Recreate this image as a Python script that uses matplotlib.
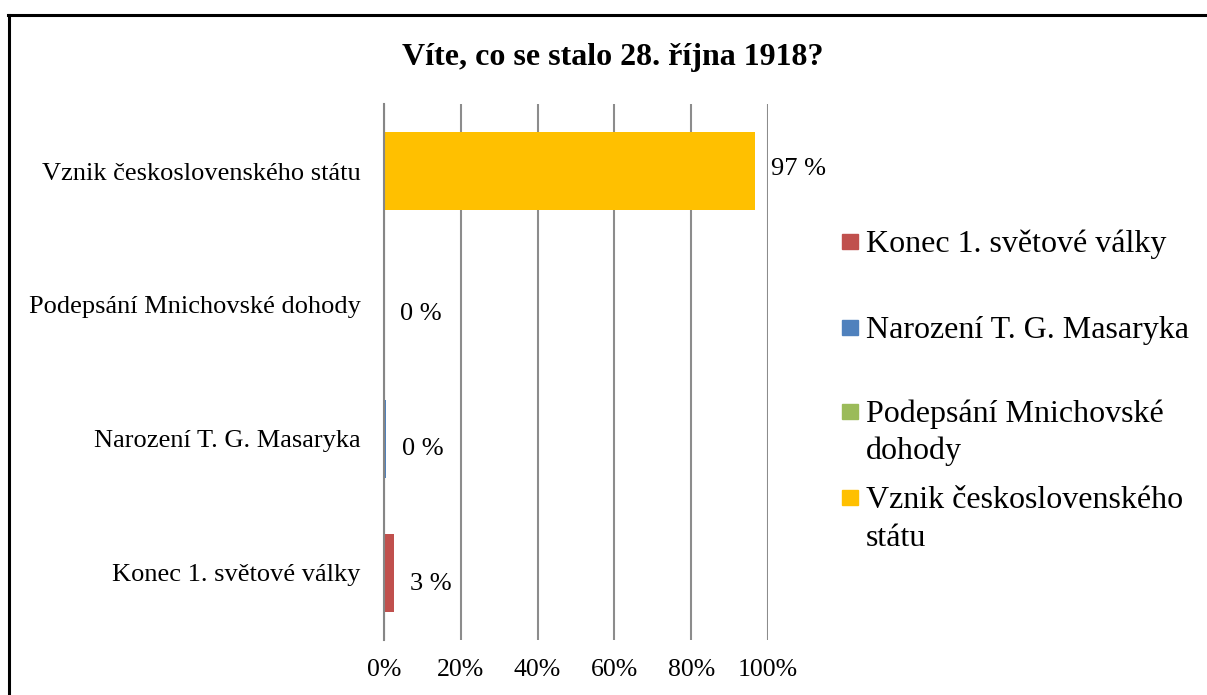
import matplotlib.pyplot as plt
import numpy as np
from matplotlib.patches import Rectangle
from matplotlib.lines import Line2D

plt.rcParams['font.family'] = ['Liberation Serif', 'DejaVu Serif']

# data
categories = ['Konec 1. světové války', 'Narození T. G. Masaryka',
              'Podepsání Mnichovské dohody', 'Vznik československého státu']
values = [0.026, 0.005, 0.0, 0.966]
value_labels = ['3 %', '0 %', '0 %', '97 %']
legend_labels = ['Konec 1. světové války', 'Narození T. G. Masaryka',
                 'Podepsání Mnichovské\ndohody', 'Vznik československého\nstátu']
colors = ['#C0504D', '#4F81BD', '#9BBB59', '#FFC000']
xticks = [0, 0.2, 0.4, 0.6, 0.8, 1.0]
xtick_labels = ['0%', '20%', '40%', '60%', '80%', '100%']

# vertical shift of the value labels (pixels, positive = down)
label_dy = [11, 10, 9, -2]

W, H = 1207, 695
fig = plt.figure(figsize=(W / 100, H / 100), dpi=100)
ax = fig.add_axes([384 / W, 1 - 640 / H, 384 / W, 536 / H])

y = np.arange(len(categories))
ax.barh(y, values, height=0.575, color=colors, zorder=3)
for yi, v, lab, dy in zip(y, values, value_labels, label_dy):
    ax.annotate(lab, (v, yi), xytext=(16, -dy), textcoords='offset pixels',
                va='center', ha='left', fontsize=19)

ax.set_xlim(0, 1)
ax.set_ylim(-0.5, len(categories) - 0.5)
ax.set_xticks(xticks)
ax.set_xticklabels(xtick_labels, fontsize=18.5)
ax.set_yticks(y)
ax.set_yticklabels(categories, fontsize=19)
ax.tick_params(axis='x', length=0, pad=14)
ax.tick_params(axis='y', length=0, pad=17)
ax.xaxis.grid(True, color='#8C8C8C', lw=1.5, zorder=0)
for s in ['top', 'right', 'bottom']:
    ax.spines[s].set_visible(False)
ax.spines['left'].set_color('#868686')
ax.spines['left'].set_linewidth(1.5)
ax.spines['left'].set_zorder(4)

fig.text(613 / W, 1 - 57 / H, 'Víte, co se stalo 28. října 1918?',
         ha='center', va='center', fontsize=23, fontweight='bold')

# legend drawn by hand (baseline of first line of each entry, in pixels)
leg_base = [252, 338, 422, 508]
line_step = 37.5
for lab, c, b in zip(legend_labels, colors, leg_base):
    fig.patches.append(Rectangle((842 / W, 1 - (b - 3) / H), 16 / W, 15 / H,
                                 transform=fig.transFigure, color=c))
    for i, line in enumerate(lab.split('\n')):
        fig.text(866 / W, 1 - (b + i * line_step) / H, line, ha='left',
                 va='baseline', fontsize=23)

# outer frame
fig.add_artist(Line2D([8 / W, 1], [1 - 15 / H, 1 - 15 / H], color='black', lw=2.2))
fig.add_artist(Line2D([9 / W, 9 / W], [0, 1 - 15 / H], color='black', lw=2.2))

fig.savefig('out.png', dpi=100)
